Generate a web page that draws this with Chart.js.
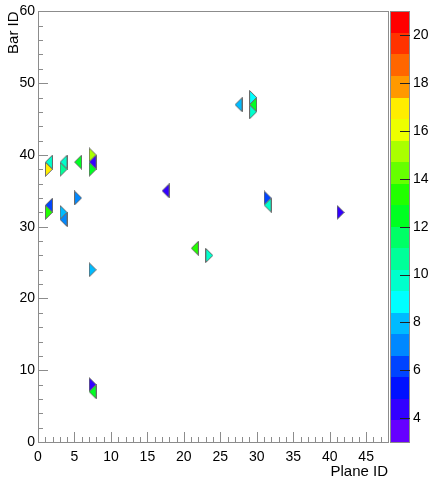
<!DOCTYPE html>
<html>
<head>
<meta charset="utf-8">
<script src="https://cdn.jsdelivr.net/npm/chart.js@4"></script>
<style>
  html, body { margin: 0; padding: 0; background: #fff; }
</style>
</head>
<body>
<canvas id="chart" width="430" height="481"></canvas>
<script>
// hits: plane, bar, charge
const planes = [1, 1, 3, 3, 5, 7, 7, 7, 1, 1, 3, 3, 5, 7, 7, 7, 17, 21, 23, 27, 29, 29, 29, 31, 31, 41];
const bars   = [39, 38, 39, 38, 39, 40, 39, 38, 33, 32, 32, 31, 34, 24, 8, 7, 35, 27, 26, 47, 48, 47, 46, 34, 33, 32];
const charge = [9.6, 17, 9.6, 10.6, 12.4, 15.2, 4.3, 12.4, 6.1, 13.3, 7.6, 7.1, 7.4, 7.9, 4.3, 12.4, 4.3, 13.3, 9.8, 7.9, 9.0, 12.4, 9.8, 6.1, 9.8, 4.3];

const xTicks = [0, 5, 10, 15, 20, 25, 30, 35, 40, 45];
const yTicks = [0, 10, 20, 30, 40, 50, 60];
const zTicks = [4, 6, 8, 10, 12, 14, 16, 18, 20];
const zMin = 3, zMax = 21;

// rainbow palette, bottom to top
const palette = ['#6600ff', '#3300ff', '#0011ff', '#0044ff', '#0088ff', '#00bbff', '#00ffff', '#00ffcc', '#00ff99', '#00ff66',
                 '#00ff22', '#22ff00', '#66ff00', '#aaff00', '#eeff00', '#ffee00', '#ff9900', '#ff6600', '#ff3300', '#ff0000'];

const FONT = 'Liberation Sans, Arial, Helvetica, sans-serif';
const GREY = '#8c8c8c';

function colorFor(z) {
  const step = (zMax - zMin) / palette.length;
  let i = Math.floor((z - zMin) / step);
  return palette[Math.max(0, Math.min(palette.length - 1, i))];
}

// triangle strip markers, drawn into small canvases
const cache = {};
function triangle(ctx) {
  const i = ctx.dataIndex;
  const sx = ctx.chart.scales.x, sy = ctx.chart.scales.y;
  const w = Math.round(Math.abs(sx.getPixelForValue(1) - sx.getPixelForValue(0)));
  const h = Math.round(Math.abs(sy.getPixelForValue(0) - sy.getPixelForValue(2)));
  const right = bars[i] % 2 === 0;
  const col = colorFor(charge[i]);
  const key = col + right + w + 'x' + h;
  if (cache[key]) return cache[key];
  const c = document.createElement('canvas');
  c.width = w + 1;
  c.height = h + 1;
  const g = c.getContext('2d');
  g.beginPath();
  if (right) {
    g.moveTo(0.5, 0.5); g.lineTo(0.5, h + 0.5); g.lineTo(w + 0.5, h / 2 + 0.5);
  } else {
    g.moveTo(w + 0.5, 0.5); g.lineTo(w + 0.5, h + 0.5); g.lineTo(0.5, h / 2 + 0.5);
  }
  g.closePath();
  g.fillStyle = col;
  g.fill();
  g.strokeStyle = '#6a6a6a';
  g.lineWidth = 1;
  g.stroke();
  cache[key] = c;
  return c;
}

// frame, inward ticks and colour bar
const decor = {
  id: 'decor',
  afterDraw(chart) {
    const {ctx, chartArea: a, scales} = chart;
    const sx = scales.x, sy = scales.y, sz = scales.z;
    ctx.save();
    ctx.strokeStyle = GREY;
    ctx.lineWidth = 1;
    ctx.strokeRect(Math.round(a.left) + 0.5, Math.round(a.top) + 0.5, Math.round(a.right - a.left), Math.round(a.bottom - a.top));
    ctx.beginPath();
    for (let v = 0; v <= 48; v++) {
      const px = Math.round(sx.getPixelForValue(v)) + 0.5;
      const len = v % 5 === 0 ? 10 : 5;
      ctx.moveTo(px, a.bottom);
      ctx.lineTo(px, a.bottom - len);
    }
    for (let v = 0; v <= 60; v += 2) {
      const py = Math.round(sy.getPixelForValue(v)) + 0.5;
      const len = v % 10 === 0 ? 10 : 5;
      ctx.moveTo(a.left, py);
      ctx.lineTo(a.left + len, py);
    }
    ctx.stroke();

    // colour bar
    const left = Math.round(sz.left) + 2, width = 20;
    const step = (zMax - zMin) / palette.length;
    palette.forEach((col, i) => {
      const y1 = sz.getPixelForValue(zMin + i * step);
      const y2 = sz.getPixelForValue(zMin + (i + 1) * step);
      ctx.fillStyle = col;
      ctx.fillRect(left, Math.round(y2), width, Math.round(y1) - Math.round(y2));
    });
    ctx.strokeStyle = GREY;
    ctx.strokeRect(left + 0.5, Math.round(a.top) + 0.5, width - 1, Math.round(a.bottom - a.top));
    ctx.strokeStyle = '#222';
    ctx.beginPath();
    zTicks.forEach(v => {
      const py = Math.round(sz.getPixelForValue(v)) + 0.5;
      ctx.moveTo(left + width - 10, py);
      ctx.lineTo(left + width, py);
    });
    ctx.stroke();
    ctx.restore();
  }
};

const font = {family: FONT, size: 14};
const titleFont = {family: FONT, size: 15};

new Chart(document.getElementById('chart'), {
  type: 'scatter',
  data: {
    datasets: [{
      data: planes.map((p, i) => ({x: p + 0.5, y: bars[i]})),
      pointStyle: triangle,
      pointRadius: 8,
      backgroundColor: '#000'
    }]
  },
  options: {
    responsive: false,
    animation: false,
    events: [],
    layout: {padding: {top: 10, right: 0, bottom: 0, left: 0}},
    plugins: {legend: {display: false}, tooltip: {enabled: false}},
    scales: {
      x: {
        type: 'linear', position: 'bottom', min: 0, max: 48,
        grid: {display: false, drawTicks: false},
        border: {display: false},
        afterBuildTicks: s => { s.ticks = xTicks.map(v => ({value: v})); },
        afterFit: s => { s.height = 39; },
        ticks: {font, color: '#000', padding: 7, maxRotation: 0, autoSkip: false},
        title: {display: true, text: 'Plane ID', align: 'end', font: titleFont, color: '#000', padding: {top: 0, bottom: 0}}
      },
      y: {
        type: 'linear', position: 'left', min: 0, max: 60,
        grid: {display: false, drawTicks: false},
        border: {display: false},
        afterBuildTicks: s => { s.ticks = yTicks.map(v => ({value: v})); },
        afterFit: s => { s.width = 38; },
        ticks: {font, color: '#000', padding: 3},
        title: {display: true, text: 'Bar ID', align: 'end', font: titleFont, color: '#000', padding: {top: 5, bottom: 0}}
      },
      z: {
        type: 'linear', position: 'right', min: zMin, max: zMax,
        grid: {display: false, drawTicks: true, tickLength: 22},
        border: {display: false},
        afterBuildTicks: s => { s.ticks = zTicks.map(v => ({value: v})); },
        afterFit: s => { s.width = 42; },
        ticks: {font, color: '#000', padding: 3}
      }
    }
  },
  plugins: [decor]
});
</script>
</body>
</html>
